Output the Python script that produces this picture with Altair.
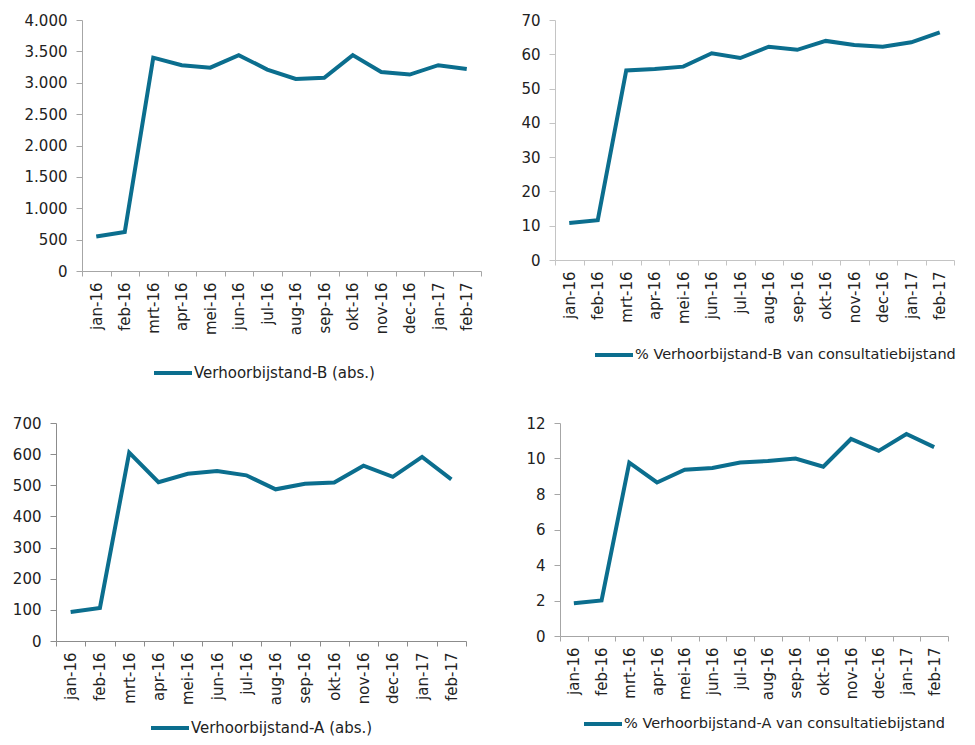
import altair as alt
import pandas as pd

months = ["jan-16", "feb-16", "mrt-16", "apr-16", "mei-16", "jun-16", "jul-16",
          "aug-16", "sep-16", "okt-16", "nov-16", "dec-16", "jan-17", "feb-17"]

verhoor_b_abs = [550, 620, 3400, 3280, 3240, 3440, 3210, 3060, 3080, 3440, 3170, 3130, 3280, 3220]
verhoor_b_pct = [10.8, 11.6, 55.3, 55.7, 56.4, 60.3, 58.9, 62.2, 61.3, 63.9, 62.7, 62.2, 63.5, 66.4]
verhoor_a_abs = [93, 106, 605, 510, 537, 546, 532, 487, 505, 509, 563, 527, 591, 519]
verhoor_a_pct = [1.85, 2.0, 9.77, 8.65, 9.37, 9.46, 9.77, 9.86, 10.0, 9.54, 11.1, 10.43, 11.38, 10.64]

names = ["Verhoorbijstand-B (abs.)",
         "% Verhoorbijstand-B van consultatiebijstand",
         "Verhoorbijstand-A (abs.)",
         "% Verhoorbijstand-A van consultatiebijstand"]

LINE = "#0b6e8e"
FONT = "DejaVu Sans"
LEG_TEXT_DX = 42  # label start relative to legend origin (symbol column width)


def panel(values, name, ymax, step, width, height, lx, ly, axis_color,
          label_expr=None, shift=0, legend_size=15):
    df = pd.DataFrame({"month": months, "value": values, "series": name})
    yaxis = dict(title=None, values=list(range(0, ymax + step, step)), grid=False,
                 domainColor=axis_color, tickColor=axis_color, tickSize=6,
                 labelPadding=9)
    if label_expr:
        yaxis["labelExpr"] = label_expr
    xscale = dict(paddingInner=0, paddingOuter=0)
    if shift:
        yaxis["offset"] = -shift
        xscale["range"] = [shift, width + shift]
    return alt.Chart(df).mark_line(strokeWidth=4).encode(
        x=alt.X("month:N", sort=months, scale=alt.Scale(**xscale),
                axis=alt.Axis(title=None, labelAngle=-90, tickBand="extent",
                              domainColor=axis_color, tickColor=axis_color,
                              tickSize=5, labelPadding=6)),
        y=alt.Y("value:Q", scale=alt.Scale(domain=[0, ymax], nice=False, zero=True),
                axis=alt.Axis(**yaxis)),
        color=alt.Color("series:N", scale=alt.Scale(range=[LINE]),
                        legend=alt.Legend(title=None, orient="none",
                                          legendX=lx, legendY=ly,
                                          symbolType="stroke", symbolSize=1444,
                                          symbolStrokeWidth=4, symbolStrokeColor=LINE,
                                          clipHeight=12, labelOffset=0,
                                          labelLimit=500, labelFontSize=legend_size,
                                          labelFont=FONT, labelColor="#222222")),
    ).properties(width=width + shift, height=height)


# left column: p1 plot starts 26px to the right of p3 plot (both columns share x=55)
p1 = panel(verhoor_b_abs, names[0], 4000, 500, 399, 251, 193 - LEG_TEXT_DX - 55, 347,
           "#a6a6a6", "replace(format(datum.value, ',d'), ',', '.')", shift=26)
p2 = panel(verhoor_b_pct, names[1], 70, 10, 399, 240, 637 - LEG_TEXT_DX - 557, 329,
           "#c4c4c4", legend_size=14.5)
p3 = panel(verhoor_a_abs, names[2], 700, 100, 410, 218, 190 - LEG_TEXT_DX - 55, 299,
           "#8c8c8c")
p4 = panel(verhoor_a_pct, names[3], 12, 2, 388, 213, 625 - LEG_TEXT_DX - 561, 295,
           "#a6a6a6", legend_size=14.5)

row1 = alt.hconcat(p1, p2, spacing=38).resolve_scale(color="independent").resolve_legend(color="independent")
row2 = alt.hconcat(p3, p4, spacing=58).resolve_scale(color="independent").resolve_legend(color="independent")

chart = alt.vconcat(row1, row2, spacing=35).resolve_scale(
    color="independent").resolve_legend(color="independent").properties(
    padding={"left": 4, "top": 5, "right": 0, "bottom": 0}
).configure_view(stroke=None).configure_axis(
    labelFont=FONT, labelFontSize=15, labelColor="#222222"
).configure_legend(labelFont=FONT)

chart.save("out.html", embed_options={"renderer": "svg", "actions": False})
